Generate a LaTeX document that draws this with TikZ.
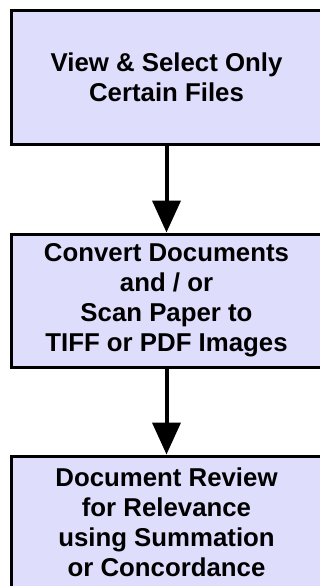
\documentclass[tikz,border=0pt]{standalone}
\usepackage{fontspec}
\setmainfont{Liberation Sans}
\usetikzlibrary{positioning, arrows.meta}
\definecolor{boxfill}{RGB}{222,222,252}

\begin{document}
\begin{tikzpicture}[x=1pt, y=-1pt, node distance=223pt, auto, >={Triangle[width=28pt, length=32pt]},
        stage/.style={rectangle, draw, line width=3pt, fill=boxfill, minimum width=311pt, minimum height=133pt, align=center, font=\fontsize{25.8}{30}\selectfont\bfseries}]
            \useasboundingbox (0,0) rectangle (320,586);
            \node[stage] (view) at (166.5,77.5) {View \& Select Only\\Certain Files};
            \node[stage, below of=view] (convert) {Convert Documents\\and / or\\Scan Paper to\\TIFF or PDF Images};
            \node[stage, below of=convert, node distance=222pt] (review) {Document Review\\for Relevance\\using Summation\\or Concordance};

            \draw[->, line width=4pt] (view) -- (convert);
            \draw[->, line width=4pt] (convert) -- (review);
        \end{tikzpicture}
\end{document}
